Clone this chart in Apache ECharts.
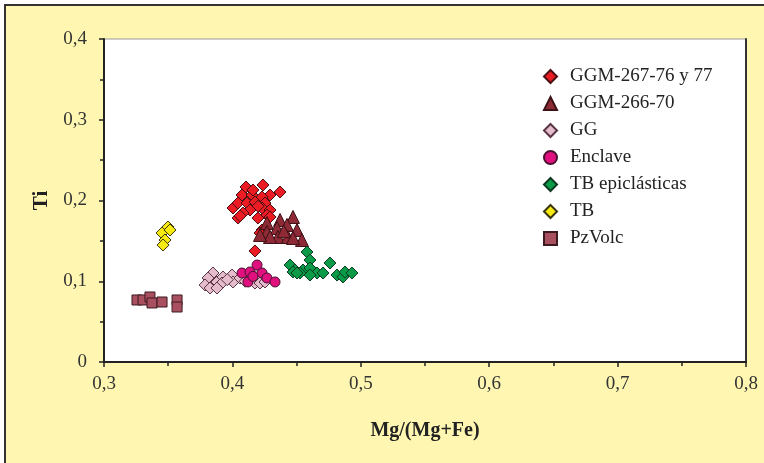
<!DOCTYPE html>
<html><head><meta charset="utf-8">
<script src="https://cdn.jsdelivr.net/npm/echarts@6/dist/echarts.min.js"></script>
<style>html,body{margin:0;padding:0;background:#fff;}#c{width:764px;height:463px;}</style>
</head><body><div id="c"></div>
<script>
const seriesNames = ['GGM-267-76 y 77','GGM-266-70','GG','Enclave','TB epiclásticas','TB','PzVolc'];
const ggm267 = [[0.4106,0.2167],[0.4238,0.2192],[0.4371,0.2105],[0.4293,0.2068],[0.4075,0.2068],[0.4153,0.2068],[0.4231,0.2043],[0.4005,0.1907],[0.4044,0.1969],[0.4114,0.1969],[0.4176,0.1981],[0.4254,0.1969],[0.4137,0.1882],[0.4231,0.1907],[0.4293,0.1882],[0.4083,0.1845],[0.4044,0.1783],[0.4199,0.1783],[0.4269,0.1820],[0.4293,0.1796],[0.4231,0.1635],[0.4215,0.1598],[0.4176,0.1375],[0.4160,0.2130],[0.4200,0.1930],[0.4060,0.1810]];
const ggm266 = [[0.4269,0.1721],[0.4371,0.1759],[0.4472,0.1796],[0.4425,0.1697],[0.4347,0.1659],[0.4269,0.1610],[0.4355,0.1548],[0.4433,0.1548],[0.4503,0.1635],[0.4542,0.1511],[0.4293,0.1548],[0.4472,0.1536],[0.4215,0.1573],[0.4400,0.1620]];
const gg = [[0.3849,0.1102],[0.3810,0.1040],[0.3787,0.0954],[0.3826,0.0916],[0.3880,0.0991],[0.3927,0.1053],[0.3919,0.0978],[0.3997,0.1077],[0.4005,0.0991],[0.4059,0.1040],[0.4153,0.1053],[0.4192,0.1102],[0.4231,0.1040],[0.4176,0.0978],[0.4215,0.0978],[0.4254,0.0991],[0.3880,0.0916],[0.3960,0.1020],[0.4100,0.1000]];
const enclave = [[0.4192,0.1201],[0.4075,0.1102],[0.4137,0.1115],[0.4121,0.0991],[0.4231,0.1102],[0.4269,0.1040],[0.4332,0.0991],[0.4160,0.1060]];
const tbEpi = [[0.4581,0.1362],[0.4604,0.1263],[0.4449,0.1201],[0.4488,0.1139],[0.4550,0.1139],[0.4604,0.1164],[0.4659,0.1102],[0.4604,0.1077],[0.4526,0.1102],[0.4706,0.1102],[0.4760,0.1226],[0.4815,0.1077],[0.4861,0.1053],[0.4877,0.1115],[0.4931,0.1102],[0.4472,0.1115],[0.4503,0.1102]];
const tb = [[0.3498,0.1672],[0.3452,0.1598],[0.3514,0.1635],[0.3475,0.1511],[0.3460,0.1449]];
const pzVolc = [[0.3257,0.0768],[0.3304,0.0768],[0.3358,0.0805],[0.3374,0.0731],[0.3452,0.0743],[0.3569,0.0768],[0.3569,0.0681]];
const xTicks = [0.3,0.4,0.5,0.6,0.7,0.8];
const yTicks = [0,0.1,0.2,0.3,0.4];

const dataSets = [ggm267, ggm266, gg, enclave, tbEpi, tb, pzVolc];
const symbols = ['diamond','triangle','diamond','circle','diamond','diamond','rect'];
const sizes = [12,13,12,10,12,12,10];
const fills = ['#ec1c24','#8e2a35','#e4bccb','#e0107f','#0a9a48','#f7ea10','#a8505f'];
const borders = ['#4a1012','#3c1216','#5a3444','#4a1030','#0c3a20','#3a3410','#3c1a20'];

const fmt = v => (v === 0 ? '0' : v.toFixed(1).replace('.', ','));
const serif = 'Liberation Serif';

const chart = echarts.init(document.getElementById('c'));
chart.setOption({
  animation: false,
  textStyle: {fontFamily: serif},
  graphic: [{type:'rect', z:-10, shape:{x:5,y:5,width:820,height:520}, style:{fill:'#fff7b1', stroke:'#333', lineWidth:2}}],
  grid: {left:104, top:39, right:18, bottom:101, show:true, backgroundColor:'#fff', borderColor:'#999', borderWidth:1},
  legend: {
    orient:'vertical', left:538, top:62, itemWidth:13, itemHeight:13, itemGap:8,
    textStyle:{fontFamily:serif, fontSize:19, lineHeight:19, color:'#222', padding:[0,0,0,8]},
    data: seriesNames
  },
  xAxis: {
    type:'value', min:xTicks[0], max:xTicks[xTicks.length-1], interval:0.1,
    name:'Mg/(Mg+Fe)', nameLocation:'middle', nameGap:59,
    nameTextStyle:{fontFamily:serif, fontSize:20, fontWeight:'bold', color:'#222'},
    axisLine:{lineStyle:{color:'#222', width:2}},
    axisTick:{length:5, lineStyle:{color:'#222', width:1.5}},
    minorTick:{show:true, splitNumber:2, length:4, lineStyle:{color:'#222', width:1.5}},
    splitLine:{show:false},
    axisLabel:{formatter:fmt, fontFamily:serif, fontSize:19, color:'#333', margin:13}
  },
  yAxis: [{
    type:'value', min:yTicks[0], max:yTicks[yTicks.length-1], interval:0.1,
    name:'Ti', nameLocation:'middle', nameGap:45,
    nameTextStyle:{fontFamily:serif, fontSize:21, fontWeight:'bold', color:'#222'},
    axisLine:{lineStyle:{color:'#222', width:2}},
    axisTick:{length:5, lineStyle:{color:'#222', width:1.5}},
    minorTick:{show:true, splitNumber:2, length:4, lineStyle:{color:'#222', width:1.5}},
    splitLine:{show:false},
    axisLabel:{formatter:fmt, fontFamily:serif, fontSize:19, color:'#333', margin:17}
  },{
    type:'value', position:'right', min:0, max:0.4,
    axisLine:{show:true, lineStyle:{color:'#333', width:2}},
    axisTick:{show:false}, axisLabel:{show:false}, splitLine:{show:false}
  }],
  series: dataSets.map((d,i)=>({
    name: seriesNames[i], type:'scatter', data:d, symbol:symbols[i], symbolSize:sizes[i],
    itemStyle:{color:fills[i], borderColor:borders[i], borderWidth:1, opacity:1}
  }))
});
</script></body></html>
